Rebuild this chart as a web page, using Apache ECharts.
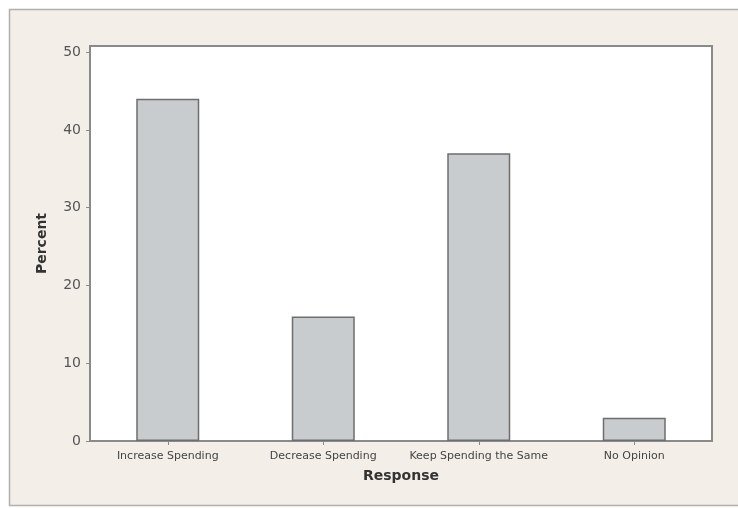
<!DOCTYPE html>
<html>
<head>
<meta charset="utf-8">
<script src="https://cdn.jsdelivr.net/npm/echarts@6/dist/echarts.min.js"></script>
<style>html,body{margin:0;padding:0;background:#fff}#c{width:738px;height:508px}</style>
</head>
<body>
<div id="c"></div>
<script>
const categories = ['Increase Spending', 'Decrease Spending', 'Keep Spending the Same', 'No Opinion'];
const percentValues = [44, 16, 37, 3];
const yTickValues = [0, 10, 20, 30, 40, 50];

const chart = echarts.init(document.getElementById('c'), null, {renderer: 'canvas'});
chart.setOption({
  backgroundColor: '#ffffff',
  animation: false,
  graphic: [{
    type: 'rect', z: -10, silent: true,
    shape: {x: 9.5, y: 9.5, width: 740, height: 496},
    style: {fill: '#f3eee8', stroke: '#b0b0b0', lineWidth: 1.5}
  }],
  grid: {
    left: 90, top: 46, right: 26, bottom: 67,
    show: true, backgroundColor: '#ffffff', borderColor: '#8a8a8a', borderWidth: 2
  },
  xAxis: {
    type: 'category',
    data: categories,
    name: 'Response',
    nameLocation: 'middle',
    nameGap: 28,
    nameTextStyle: {fontFamily: 'DejaVu Sans', fontWeight: 'bold', fontSize: 14, color: '#333'},
    axisLine: {lineStyle: {color: '#8a8a8a', width: 2}},
    axisTick: {show: true, alignWithLabel: true, inside: false, length: 4, lineStyle: {color: '#8a8a8a'}},
    axisLabel: {fontFamily: 'DejaVu Sans', fontSize: 11, color: '#444', margin: 10, interval: 0}
  },
  yAxis: {
    type: 'value',
    min: 0, max: 50.8, interval: 10,
    name: 'Percent',
    nameLocation: 'middle',
    nameGap: 41,
    nameRotate: 90,
    nameTextStyle: {fontFamily: 'DejaVu Sans', fontWeight: 'bold', fontSize: 14, color: '#333'},
    splitLine: {show: false},
    axisLine: {show: true, lineStyle: {color: '#8a8a8a', width: 2}},
    axisTick: {show: true, length: 4, lineStyle: {color: '#8a8a8a'}, customValues: yTickValues},
    axisLabel: {fontFamily: 'DejaVu Sans', fontSize: 14, color: '#555', margin: 9, customValues: yTickValues}
  },
  series: [{
    type: 'bar',
    data: percentValues,
    barWidth: 63,
    itemStyle: {color: '#c9cccf', borderColor: '#6e6e6e', borderWidth: 1.5}
  }]
});
</script>
</body>
</html>
